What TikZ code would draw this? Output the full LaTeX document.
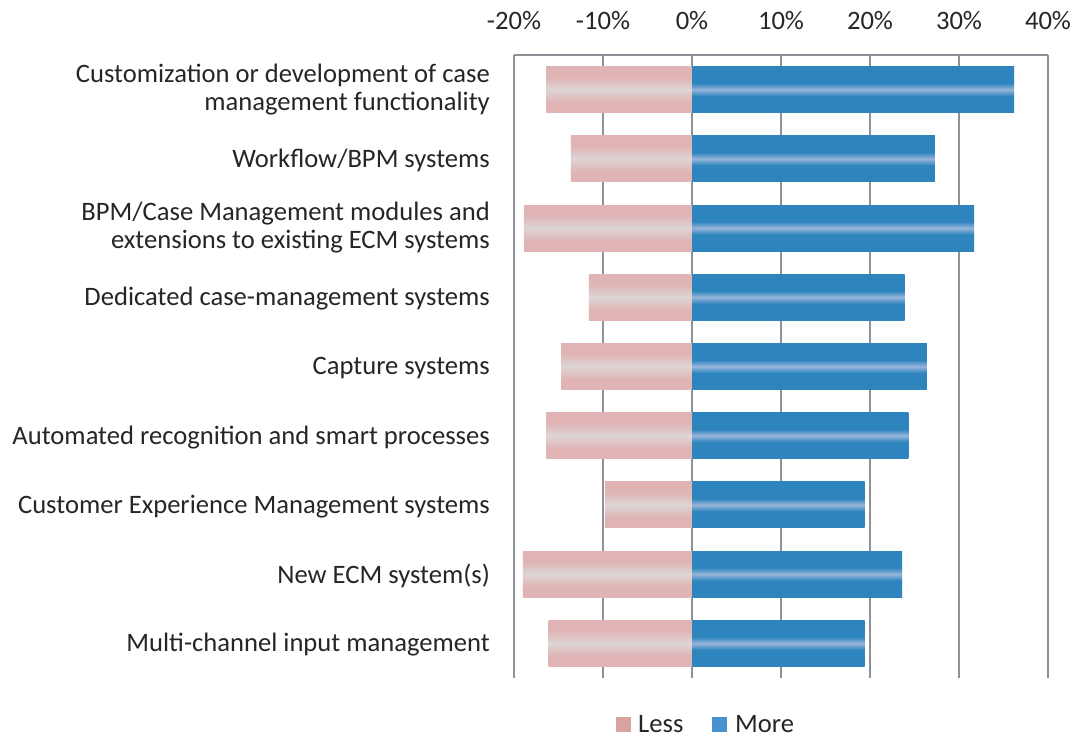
\documentclass[tikz,border=0pt]{standalone}
\usepackage{fontspec}
\setmainfont{Carlito}
\definecolor{txt}{HTML}{262626}
\definecolor{gridc}{HTML}{8E9298}
\definecolor{pdark}{HTML}{E0B3B4}
\definecolor{plight}{HTML}{DDD5D5}
\definecolor{bdark}{HTML}{2E85BE}
\definecolor{blight}{HTML}{98B5DA}
\definecolor{lpink}{HTML}{D9A3A4}
\definecolor{lblue}{HTML}{4893CF}
\pgfdeclareverticalshading{lessbar}{100bp}{color(0bp)=(pdark); color(36bp)=(pdark); color(50bp)=(plight); color(64bp)=(pdark); color(100bp)=(pdark)}
\pgfdeclareverticalshading{morebar}{100bp}{color(0bp)=(bdark); color(43bp)=(bdark); color(50bp)=(blight); color(57bp)=(bdark); color(100bp)=(bdark)}
\tikzset{
  txtstyle/.style={text=txt, font=\fontsize{26.6}{28}\selectfont, inner sep=0pt},
  catlabel/.style={txtstyle, align=right, anchor=east},
  gridline/.style={draw=gridc, line width=2.5pt},
}
\begin{document}
\begin{tikzpicture}[x=1pt,y=-1pt]
\useasboundingbox (0,0) rectangle (1076,738);
\fill[white] (0,0) rectangle (1076,738);
% grid
\foreach \v in {-20,-10,0,10,20,30,40}{
  \draw[gridline] (692+8.9*\v,55) -- (692+8.9*\v,678);
  \node[txtstyle, anchor=base] (tick\v) at (692+8.9*\v,30) {\v\%};
}
\draw[gridline] (514,55) -- (1048,55);
% bars
\foreach [count=\i] \l/\m/\s/\lab in {
  -16.4/36.2/-0.5/{Customization or development of case\\management functionality},
  -13.6/27.3/1.5/{Workflow/BPM systems},
  -18.9/31.7/-0.5/{BPM/Case Management modules and\\extensions to existing ECM systems},
  -11.6/23.9/1.5/{Dedicated case-management systems},
  -14.7/26.4/1.5/{Capture systems},
  -16.4/24.3/1.5/{Automated recognition and smart processes},
  -9.8/19.4/1.5/{Customer Experience Management systems},
  -19.0/23.6/1.5/{New ECM system(s)},
  -16.1/19.4/1.5/{Multi-channel input management}}{
  \pgfmathsetmacro\yc{55+69.22*(\i-0.5)}
  \shade[shading=lessbar] (692+8.9*\l,\yc-23) rectangle (692,\yc+23);
  \shade[shading=morebar] (692,\yc-23) rectangle (692+8.9*\m,\yc+23);
  \node[catlabel] (lab\i) at (490,\yc+\s) {\lab};
}
% legend
\fill[lpink] (616,717) rectangle (631,732);
\node[txtstyle, anchor=base west] (lessleg) at (638,732) {Less};
\fill[lblue] (712,717) rectangle (727,732);
\node[txtstyle, anchor=base west] (moreleg) at (735,732) {More};
\end{tikzpicture}
\end{document}
